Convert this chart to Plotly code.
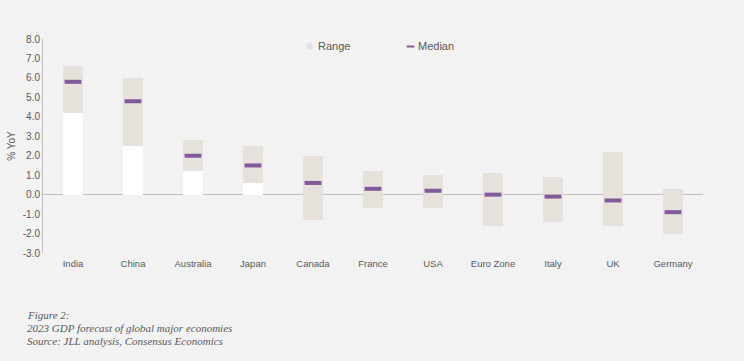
import plotly.graph_objects as go

countries = ["India", "China", "Australia", "Japan", "Canada", "France", "USA",
             "Euro Zone", "Italy", "UK", "Germany"]
low = [4.2, 2.5, 1.2, 0.6, -1.3, -0.7, -0.7, -1.6, -1.4, -1.6, -2.0]
high = [6.6, 6.0, 2.8, 2.5, 2.0, 1.2, 1.0, 1.1, 0.9, 2.2, 0.3]
median = [5.8, 4.8, 2.0, 1.5, 0.6, 0.3, 0.2, 0.0, -0.1, -0.3, -0.9]
y_ticks = [8, 7, 6, 5, 4, 3, 2, 1, 0, -1, -2, -3]
captions = ["Figure 2:", "2023 GDP forecast of global major economies",
            "Source: JLL analysis, Consensus Economics"]

W, H = 744, 361
L, R, T, B = 43, 41, 39, 108
PW, PH = W - L - R, H - T - B
BG = "#F2F2F2"
TXT = "#595959"
RANGE_C = "#E6E1DA"
MED_C = "#82599A"


def px(x):
    return (x - L) / PW


def py(y):
    return ((H - B) - y) / PH


fig = go.Figure()
# white base bars (0 to low) for positive lows
fig.add_trace(go.Bar(
    x=countries, y=[v if v > 0 else None for v in low],
    marker=dict(color="white", line=dict(width=0)), width=0.32,
    showlegend=False, hoverinfo="skip"))
# range bars
fig.add_trace(go.Bar(
    x=countries, y=[h - l for h, l in zip(high, low)], base=low,
    marker=dict(color=RANGE_C, line=dict(width=0)), width=0.32,
    name="Range", showlegend=False))
# median markers
fig.add_trace(go.Scatter(
    x=countries, y=median, mode="markers", name="Median", showlegend=False,
    marker=dict(symbol="line-ew", size=12, color=MED_C,
                line=dict(width=4, color=MED_C))))

annotations = []
cap_y = [315, 328, 341]
for txt, yy in zip(captions, cap_y):
    annotations.append(dict(
        text=txt, xref="paper", yref="paper", x=px(25), y=py(yy),
        xanchor="left", yanchor="middle", showarrow=False,
        font=dict(family="Liberation Serif", size=11, color=TXT, style="italic")))

# legend (manual)
for txt, x0 in [("Range", 315.5), ("Median", 415.5)]:
    annotations.append(dict(
        text=txt, xref="paper", yref="paper", x=px(x0), y=py(46.5),
        xanchor="left", yanchor="middle", showarrow=False,
        font=dict(family="Liberation Sans", size=11, color=TXT)))
shapes = [
    dict(type="rect", xref="paper", yref="paper", x0=px(306.7), x1=px(312.3),
         y0=py(43.3), y1=py(49.3), fillcolor=RANGE_C, line=dict(width=0)),
    dict(type="rect", xref="paper", yref="paper", x0=px(406.7), x1=px(414.3),
         y0=py(45.5), y1=py(47.5), fillcolor=MED_C, line=dict(width=0)),
]

fig.update_layout(
    width=W, height=H,
    margin=dict(l=L, r=R, t=T, b=B, pad=0),
    paper_bgcolor=BG, plot_bgcolor=BG,
    barmode="overlay", bargap=0,
    font=dict(family="Liberation Sans", size=10, color=TXT),
    showlegend=False,
    annotations=annotations,
    shapes=shapes,
)
fig.update_xaxes(
    type="category", range=[-0.5, 10.5], showgrid=False, zeroline=False,
    showline=False, ticks="", tickfont=dict(size=9.5, color=TXT), ticklabelstandoff=3)
fig.update_yaxes(
    range=[-3, 8], tickvals=y_ticks, ticktext=[f"{v:.1f}" for v in y_ticks],
    showgrid=False, zeroline=True, zerolinecolor="#BFBFBF", zerolinewidth=1,
    showline=True, linecolor="#BFBFBF", linewidth=1, ticks="",
    tickfont=dict(size=10, color=TXT),
    title=dict(text="% YoY", font=dict(size=10, color=TXT), standoff=5))

fig.write_html("out.html", config={"displayModeBar": False},
               post_script="document.body.style.margin='0';")
